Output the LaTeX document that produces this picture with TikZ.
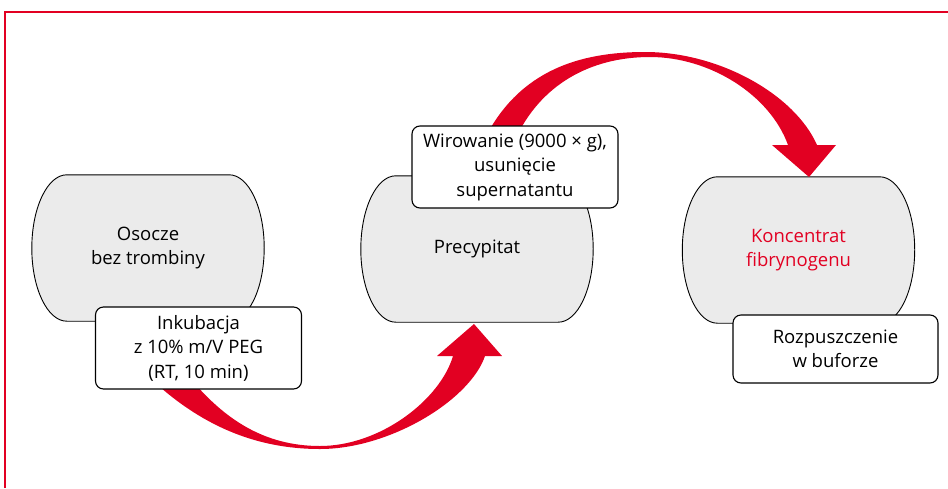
\documentclass[tikz,border=0pt]{standalone}
\usepackage{fontspec}
\setmainfont{Open Sans}
\usetikzlibrary{calc,backgrounds}
\definecolor{pzhred}{RGB}{226,0,34}
\definecolor{barrelgray}{RGB}{235,235,235}

% barrel outline round a named node (elliptic sides)
\newcommand\barrel[1]{%
  \path[barrelline] let \p1=(#1.north west), \p2=(#1.south east) in
    (\x1+35pt,\y1) -- (\x2-35pt,\y1)
    .. controls (\x2-15.7pt,\y1) and (\x2,\y1-32.7pt) .. (\x2,\y1-73pt)
    .. controls (\x2,\y2+32.7pt) and (\x2-15.7pt,\y2) .. (\x2-35pt,\y2)
    -- (\x1+35pt,\y2)
    .. controls (\x1+15.7pt,\y2) and (\x1,\y2+32.7pt) .. (\x1,\y2+73pt)
    .. controls (\x1,\y1-32.7pt) and (\x1+15.7pt,\y1) .. cycle;}

\begin{document}
\begin{tikzpicture}[
  x=1pt, y=-1pt,
  every node/.style={font=\fontsize{18.5}{24.5}\selectfont, align=center},
  barrelnode/.style={minimum width=232pt, minimum height=146pt, inner sep=0pt},
  barrelline/.style={draw=black, line width=0.9pt, fill=barrelgray},
  stepbox/.style={draw=black, line width=1.1pt, fill=white, rounded corners=8pt,
                  minimum width=206pt, minimum height=82pt, inner sep=2pt},
  bigarrow/.style={fill=pzhred, draw=none},
  redframe/.style={draw=pzhred, line width=1.4pt},
]
\useasboundingbox (0,0) rectangle (948,488);

%% -- frame -------------------------------------------------------------
\draw[redframe] (5,488) -- (5,12) -- (948,12);

%% -- stages ------------------------------------------------------------
\node[barrelnode] (osocze) at (148,248) {Osocze\\bez trombiny};
\node[barrelnode] (precyp) at (477,249) {Precypitat};
\node[barrelnode, text=pzhred] (koncent) at (798.5,250) {Koncentrat\\fibrynogenu};

\begin{scope}[on background layer]
  \barrel{osocze}
  \barrel{precyp}
  \barrel{koncent}
\end{scope}

%% -- curved arrows -----------------------------------------------------
% Inkubacja -> Precypitat
\fill[bigarrow] (150,378) .. controls (200,425) and (255,449) .. (320,449)
  .. controls (390,449) and (470,400) .. (485,356)
  -- (502,356) -- (474,324) -- (437,356) -- (453,356)
  .. controls (440,400) and (380,446) .. (320,446)
  .. controls (265,446) and (225,420) .. (190,378) -- cycle;

% Wirowanie -> Koncentrat
\fill[bigarrow] (485,138) .. controls (520,70) and (580,52) .. (645,52)
  .. controls (720,52) and (795,95) .. (817,145)
  -- (836,145) -- (809,177) -- (772,145) -- (788,145)
  .. controls (770,95) and (710,57) .. (650,57)
  .. controls (590,57) and (540,85) .. (515,140) -- cycle;

%% -- step labels -------------------------------------------------------
\node[stepbox] (inkub) at (198.5,348) {Inkubacja\\z 10\% m/V PEG\\(RT, 10 min)};
\node[stepbox] (wirow) at (515,167) {Wirowanie (9000 × g),\\usunięcie\\supernatantu};
\node[stepbox, minimum width=205pt, minimum height=68pt] (rozp) at (835.5,349)
  {Rozpuszczenie\\w buforze};

\end{tikzpicture}
\end{document}
